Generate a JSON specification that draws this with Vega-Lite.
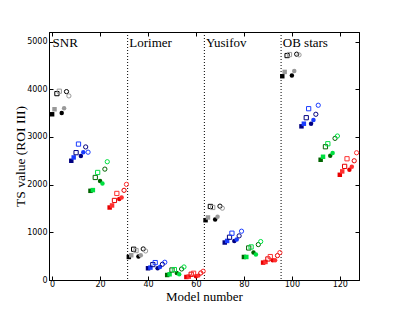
{
  "$schema": "https://vega.github.io/schema/vega-lite/v6.json",
  "width": 310,
  "height": 248,
  "autosize": "none",
  "padding": {"left": 49, "top": 32, "right": 40, "bottom": 32},
  "config": {"view": {"stroke": "#000000", "strokeWidth": 1}},
  "resolve": {"axis": {"x": "independent", "y": "independent"}},
  "datasets": {
    "pts": [
      {"m":0,"ts":3475,"c":"k1","s":"square","f":"filled"},
      {"m":1,"ts":3580,"c":"k2","s":"square","f":"filled"},
      {"m":2,"ts":3908,"c":"k1","s":"square","f":"open"},
      {"m":3,"ts":3958,"c":"k2","s":"square","f":"open"},
      {"m":4,"ts":3502,"c":"k1","s":"circle","f":"filled"},
      {"m":5,"ts":3600,"c":"k2","s":"circle","f":"filled"},
      {"m":6,"ts":3950,"c":"k1","s":"circle","f":"open"},
      {"m":7,"ts":3860,"c":"k2","s":"circle","f":"open"},
      {"m":8,"ts":2500,"c":"b1","s":"square","f":"filled"},
      {"m":9,"ts":2570,"c":"b2","s":"square","f":"filled"},
      {"m":10,"ts":2670,"c":"b1","s":"square","f":"open"},
      {"m":11,"ts":2850,"c":"b2","s":"square","f":"open"},
      {"m":12,"ts":2600,"c":"b1","s":"circle","f":"filled"},
      {"m":13,"ts":2680,"c":"b2","s":"circle","f":"filled"},
      {"m":14,"ts":2790,"c":"b1","s":"circle","f":"open"},
      {"m":15,"ts":2680,"c":"b2","s":"circle","f":"open"},
      {"m":16,"ts":1870,"c":"g1","s":"square","f":"filled"},
      {"m":17,"ts":1885,"c":"g2","s":"square","f":"filled"},
      {"m":18,"ts":2150,"c":"g1","s":"square","f":"open"},
      {"m":19,"ts":2255,"c":"g2","s":"square","f":"open"},
      {"m":20,"ts":2075,"c":"g1","s":"circle","f":"filled"},
      {"m":21,"ts":2025,"c":"g2","s":"circle","f":"filled"},
      {"m":22,"ts":2325,"c":"g1","s":"circle","f":"open"},
      {"m":23,"ts":2480,"c":"g2","s":"circle","f":"open"},
      {"m":24,"ts":1520,"c":"r1","s":"square","f":"filled"},
      {"m":25,"ts":1563,"c":"r2","s":"square","f":"filled"},
      {"m":26,"ts":1668,"c":"r1","s":"square","f":"open"},
      {"m":27,"ts":1815,"c":"r2","s":"square","f":"open"},
      {"m":28,"ts":1700,"c":"r1","s":"circle","f":"filled"},
      {"m":29,"ts":1730,"c":"r2","s":"circle","f":"filled"},
      {"m":30,"ts":1880,"c":"r1","s":"circle","f":"open"},
      {"m":31,"ts":2005,"c":"r2","s":"circle","f":"open"},
      {"m":32,"ts":483,"c":"k1","s":"square","f":"filled"},
      {"m":33,"ts":519,"c":"k2","s":"square","f":"filled"},
      {"m":34,"ts":645,"c":"k1","s":"square","f":"open"},
      {"m":35,"ts":617,"c":"k2","s":"square","f":"open"},
      {"m":36,"ts":491,"c":"k1","s":"circle","f":"filled"},
      {"m":37,"ts":519,"c":"k2","s":"circle","f":"filled"},
      {"m":38,"ts":651,"c":"k1","s":"circle","f":"open"},
      {"m":39,"ts":609,"c":"k2","s":"circle","f":"open"},
      {"m":40,"ts":246,"c":"b1","s":"square","f":"filled"},
      {"m":41,"ts":260,"c":"b2","s":"square","f":"filled"},
      {"m":42,"ts":323,"c":"b1","s":"square","f":"open"},
      {"m":43,"ts":365,"c":"b2","s":"square","f":"open"},
      {"m":44,"ts":246,"c":"b1","s":"circle","f":"filled"},
      {"m":45,"ts":273,"c":"b2","s":"circle","f":"filled"},
      {"m":46,"ts":330,"c":"b1","s":"circle","f":"open"},
      {"m":47,"ts":372,"c":"b2","s":"circle","f":"open"},
      {"m":48,"ts":105,"c":"g1","s":"square","f":"filled"},
      {"m":49,"ts":120,"c":"g2","s":"square","f":"filled"},
      {"m":50,"ts":210,"c":"g1","s":"square","f":"open"},
      {"m":51,"ts":218,"c":"g2","s":"square","f":"open"},
      {"m":52,"ts":147,"c":"g1","s":"circle","f":"filled"},
      {"m":53,"ts":120,"c":"g2","s":"circle","f":"filled"},
      {"m":54,"ts":231,"c":"g1","s":"circle","f":"open"},
      {"m":55,"ts":273,"c":"g2","s":"circle","f":"open"},
      {"m":56,"ts":63,"c":"r1","s":"square","f":"filled"},
      {"m":57,"ts":71,"c":"r2","s":"square","f":"filled"},
      {"m":58,"ts":120,"c":"r1","s":"square","f":"open"},
      {"m":59,"ts":141,"c":"r2","s":"square","f":"open"},
      {"m":60,"ts":78,"c":"r1","s":"circle","f":"filled"},
      {"m":61,"ts":92,"c":"r2","s":"circle","f":"filled"},
      {"m":62,"ts":147,"c":"r1","s":"circle","f":"open"},
      {"m":63,"ts":183,"c":"r2","s":"circle","f":"open"},
      {"m":64,"ts":1254,"c":"k1","s":"square","f":"filled"},
      {"m":65,"ts":1311,"c":"k2","s":"square","f":"filled"},
      {"m":66,"ts":1542,"c":"k1","s":"square","f":"open"},
      {"m":67,"ts":1521,"c":"k2","s":"square","f":"open"},
      {"m":68,"ts":1269,"c":"k1","s":"circle","f":"filled"},
      {"m":69,"ts":1324,"c":"k2","s":"circle","f":"filled"},
      {"m":70,"ts":1548,"c":"k1","s":"circle","f":"open"},
      {"m":71,"ts":1506,"c":"k2","s":"circle","f":"open"},
      {"m":72,"ts":786,"c":"b1","s":"square","f":"filled"},
      {"m":73,"ts":819,"c":"b2","s":"square","f":"filled"},
      {"m":74,"ts":897,"c":"b1","s":"square","f":"open"},
      {"m":75,"ts":981,"c":"b2","s":"square","f":"open"},
      {"m":76,"ts":819,"c":"b1","s":"circle","f":"filled"},
      {"m":77,"ts":849,"c":"b2","s":"circle","f":"filled"},
      {"m":78,"ts":925,"c":"b1","s":"circle","f":"open"},
      {"m":79,"ts":1023,"c":"b2","s":"circle","f":"open"},
      {"m":80,"ts":483,"c":"g1","s":"square","f":"filled"},
      {"m":81,"ts":483,"c":"g2","s":"square","f":"filled"},
      {"m":82,"ts":672,"c":"g1","s":"square","f":"open"},
      {"m":83,"ts":693,"c":"g2","s":"square","f":"open"},
      {"m":84,"ts":575,"c":"g1","s":"circle","f":"filled"},
      {"m":85,"ts":533,"c":"g2","s":"circle","f":"filled"},
      {"m":86,"ts":743,"c":"g1","s":"circle","f":"open"},
      {"m":87,"ts":806,"c":"g2","s":"circle","f":"open"},
      {"m":88,"ts":365,"c":"r1","s":"square","f":"filled"},
      {"m":89,"ts":378,"c":"r2","s":"square","f":"filled"},
      {"m":90,"ts":441,"c":"r1","s":"square","f":"open"},
      {"m":91,"ts":491,"c":"r2","s":"square","f":"open"},
      {"m":92,"ts":414,"c":"r1","s":"circle","f":"filled"},
      {"m":93,"ts":414,"c":"r2","s":"circle","f":"filled"},
      {"m":94,"ts":512,"c":"r1","s":"circle","f":"open"},
      {"m":95,"ts":575,"c":"r2","s":"circle","f":"open"},
      {"m":96,"ts":4273,"c":"k1","s":"square","f":"filled"},
      {"m":97,"ts":4363,"c":"k2","s":"square","f":"filled"},
      {"m":98,"ts":4706,"c":"k1","s":"square","f":"open"},
      {"m":99,"ts":4727,"c":"k2","s":"square","f":"open"},
      {"m":100,"ts":4286,"c":"k1","s":"circle","f":"filled"},
      {"m":101,"ts":4384,"c":"k2","s":"circle","f":"filled"},
      {"m":102,"ts":4735,"c":"k1","s":"circle","f":"open"},
      {"m":103,"ts":4720,"c":"k2","s":"circle","f":"open"},
      {"m":104,"ts":3222,"c":"b1","s":"square","f":"filled"},
      {"m":105,"ts":3277,"c":"b2","s":"square","f":"filled"},
      {"m":106,"ts":3403,"c":"b1","s":"square","f":"open"},
      {"m":107,"ts":3592,"c":"b2","s":"square","f":"open"},
      {"m":108,"ts":3277,"c":"b1","s":"circle","f":"filled"},
      {"m":109,"ts":3355,"c":"b2","s":"circle","f":"filled"},
      {"m":110,"ts":3475,"c":"b1","s":"circle","f":"open"},
      {"m":111,"ts":3664,"c":"b2","s":"circle","f":"open"},
      {"m":112,"ts":2521,"c":"g1","s":"square","f":"filled"},
      {"m":113,"ts":2584,"c":"g2","s":"square","f":"filled"},
      {"m":114,"ts":2794,"c":"g1","s":"square","f":"open"},
      {"m":115,"ts":2857,"c":"g2","s":"square","f":"open"},
      {"m":116,"ts":2605,"c":"g1","s":"circle","f":"filled"},
      {"m":117,"ts":2662,"c":"g2","s":"circle","f":"filled"},
      {"m":118,"ts":2970,"c":"g1","s":"circle","f":"open"},
      {"m":119,"ts":3019,"c":"g2","s":"circle","f":"open"},
      {"m":120,"ts":2206,"c":"r1","s":"square","f":"filled"},
      {"m":121,"ts":2277,"c":"r2","s":"square","f":"filled"},
      {"m":122,"ts":2382,"c":"r1","s":"square","f":"open"},
      {"m":123,"ts":2542,"c":"r2","s":"square","f":"open"},
      {"m":124,"ts":2311,"c":"r1","s":"circle","f":"filled"},
      {"m":125,"ts":2374,"c":"r2","s":"circle","f":"filled"},
      {"m":126,"ts":2500,"c":"r1","s":"circle","f":"open"},
      {"m":127,"ts":2668,"c":"r2","s":"circle","f":"open"}
    ],
    "seps": [{"m": 31.5}, {"m": 63.5}, {"m": 95.5}],
    "labels": [
      {"m": 0.2, "ts": 4975, "name": "SNR"},
      {"m": 32.2, "ts": 4975, "name": "Lorimer"},
      {"m": 64.2, "ts": 4975, "name": "Yusifov"},
      {"m": 96.2, "ts": 4975, "name": "OB stars"}
    ]
  },
  "layer": [
    {
      "data": {"name": "seps"},
      "mark": {"type": "rule", "color": "#000000", "strokeWidth": 1, "strokeDash": [1, 2]},
      "encoding": {
        "x": {"field": "m", "type": "quantitative", "scale": {"domain": [-1.3, 128], "nice": false, "zero": false},
          "axis": {"title": "Model number", "titleFont": "Liberation Serif", "titleFontSize": 13, "titleFontWeight": "normal", "titleColor": "#000000", "titlePadding": 2,
            "values": [0, 20, 40, 60, 80, 100, 120], "format": "d", "labelFont": "DejaVu Sans", "labelFontSize": 8, "labelColor": "#000000", "labelPadding": 4,
            "tickSize": -4, "tickColor": "#000000", "domainColor": "#000000", "grid": false}}
      }
    },
    {
      "data": {"name": "pts"},
      "transform": [{"filter": "datum.f == 'filled'"}],
      "mark": {"type": "point", "filled": true, "size": 20, "opacity": 1},
      "encoding": {
        "x": {"field": "m", "type": "quantitative", "axis": null},
        "y": {"field": "ts", "type": "quantitative", "scale": {"domain": [0, 5200], "nice": false},
          "axis": {"title": "TS value (ROI III)", "titleFont": "Liberation Serif", "titleFontSize": 13.5, "titleFontWeight": "normal", "titleColor": "#000000", "titlePadding": -1,
            "values": [0, 1000, 2000, 3000, 4000, 5000], "format": "d", "labelFont": "DejaVu Sans", "labelFontSize": 8, "labelColor": "#000000", "labelPadding": 6,
            "tickSize": -4, "tickColor": "#000000", "domainColor": "#000000", "grid": false}},
        "color": {"field": "c", "type": "nominal", "legend": null,
          "scale": {"domain": ["k1", "k2", "b1", "b2", "g1", "g2", "r1", "r2"],
            "range": ["#000000", "#999999", "#000080", "#1a3cff", "#006400", "#00e040", "#e80000", "#ff3030"]}},
        "shape": {"field": "s", "type": "nominal", "legend": null,
          "scale": {"domain": ["square", "circle"], "range": ["square", "circle"]}}
      }
    },
    {
      "data": {"name": "pts"},
      "transform": [{"filter": "datum.f == 'open'"}],
      "mark": {"type": "point", "filled": false, "size": 18, "strokeWidth": 1, "opacity": 1},
      "encoding": {
        "x": {"field": "m", "type": "quantitative", "axis": null},
        "y": {"field": "ts", "type": "quantitative", "axis": null},
        "color": {"field": "c", "type": "nominal", "legend": null},
        "shape": {"field": "s", "type": "nominal", "legend": null}
      }
    },
    {
      "data": {"name": "labels"},
      "mark": {"type": "text", "align": "left", "baseline": "middle", "font": "Liberation Serif", "fontSize": 13, "color": "#000000"},
      "encoding": {
        "x": {"field": "m", "type": "quantitative",
          "axis": {"orient": "top", "title": null, "labels": false, "values": [0, 20, 40, 60, 80, 100, 120], "tickSize": -4, "tickColor": "#000000", "domainColor": "#000000", "grid": false}},
        "y": {"field": "ts", "type": "quantitative",
          "axis": {"orient": "right", "title": null, "labels": false, "values": [0, 1000, 2000, 3000, 4000, 5000], "tickSize": -4, "tickColor": "#000000", "domainColor": "#000000", "grid": false}},
        "text": {"field": "name"}
      }
    }
  ]
}
